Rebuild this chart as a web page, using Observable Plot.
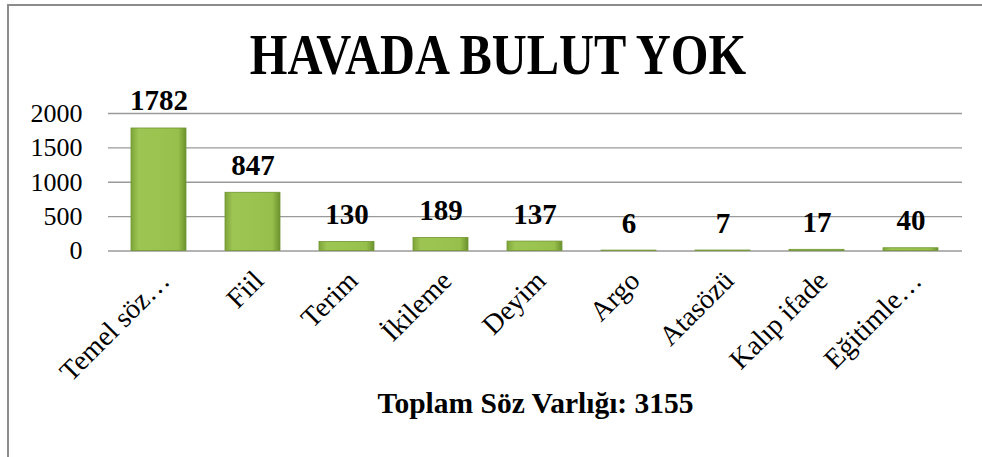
<!DOCTYPE html>
<html>
<head>
<meta charset="utf-8">
<script src="https://cdn.jsdelivr.net/npm/d3@7"></script>
<script src="https://cdn.jsdelivr.net/npm/@observablehq/plot@0.6"></script>
<style>
  html, body { margin: 0; padding: 0; background: #fff; overflow: hidden; }
  #chart { position: relative; width: 982px; height: 457px; overflow: hidden; font-family: "Liberation Serif", "Times New Roman", serif; }
  #hline { position: absolute; left: 7px; top: 4px; width: 975px; height: 2px; background: #8c8c8c; }
  #vline { position: absolute; left: 7px; top: 4px; width: 2px; height: 453px; background: #8c8c8c; }
  #title { position: absolute; left: 0; top: 27px; width: 996px; text-align: center; font-size: 57px; line-height: 56px; font-weight: bold; color: #000; transform: scaleX(0.85); transform-origin: 498px 0; white-space: nowrap; }
  #plot { position: absolute; left: 0; top: 80px; }
</style>
</head>
<body>
<div id="chart">
  <div id="hline"></div>
  <div id="vline"></div>
  <div id="title">HAVADA BULUT YOK</div>
  <div id="plot"></div>
</div>
<script>
const categories = ["Temel söz…", "Fiil", "Terim", "İkileme", "Deyim", "Argo", "Atasözü", "Kalıp ifade", "Eğitimle…"];
const values = [1782, 847, 130, 189, 137, 6, 7, 17, 40];
const yTicks = [0, 500, 1000, 1500, 2000];
const caption = "Toplam Söz Varlığı: 3155";

const data = categories.map((c, i) => ({category: c, value: values[i]}));

const svg = Plot.plot({
  width: 982,
  height: 377,
  marginLeft: 108,
  marginRight: 20,
  marginTop: 33,
  marginBottom: 206.5,
  style: {fontFamily: "'Liberation Serif', 'Times New Roman', serif", color: "#000", background: "transparent"},
  x: {domain: categories, paddingInner: 0.41, paddingOuter: 0.205, label: null},
  y: {domain: [0, 2000], label: null},
  marks: [
    Plot.gridY(yTicks, {stroke: "#9a9a9a", strokeOpacity: 1, strokeWidth: 1.3}),
    Plot.barY(data, {x: "category", y: "value", fill: "url(#barGrad)", stroke: "#6f9630", strokeWidth: 0.8}),
    Plot.text(data, {x: "category", y: "value", text: d => String(d.value), dy: -18, lineAnchor: "bottom", fontSize: 29, fontWeight: "bold", fill: "#000"}),
    Plot.axisY(yTicks, {tickSize: 0, tickPadding: 26, fontSize: 26, tickFormat: d => String(d), label: null}),
    Plot.axisX({tickRotate: -45, tickSize: 0, tickPadding: 25, dx: 6, fontSize: 28, label: null}),
    Plot.text([caption], {frameAnchor: "bottom", dy: 162, lineAnchor: "bottom", fontSize: 29.5, fontWeight: "bold", fill: "#000"})
  ]
});

const ns = "http://www.w3.org/2000/svg";
const defs = document.createElementNS(ns, "defs");
const grad = document.createElementNS(ns, "linearGradient");
grad.setAttribute("id", "barGrad");
grad.setAttribute("x1", "0"); grad.setAttribute("x2", "1");
grad.setAttribute("y1", "0"); grad.setAttribute("y2", "0");
[["0", "#7ea43a"], ["0.14", "#9dc553"], ["0.5", "#9bc34f"], ["0.86", "#97bf4b"], ["1", "#6b922d"]].forEach(([o, c]) => {
  const s = document.createElementNS(ns, "stop");
  s.setAttribute("offset", o); s.setAttribute("stop-color", c);
  grad.appendChild(s);
});
defs.appendChild(grad);
svg.insertBefore(defs, svg.firstChild);

document.getElementById("plot").appendChild(svg);
</script>
</body>
</html>
